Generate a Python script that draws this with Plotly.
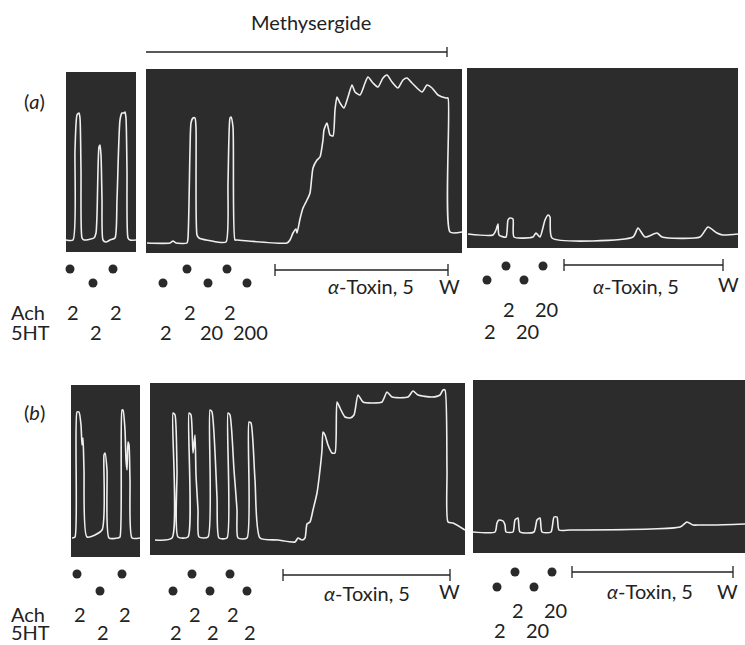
import plotly.graph_objects as go

W, H = 745, 645


def px(x):
    return x / W


def py(y):
    return 1 - y / H


# ---------------- DATA (time in chart units, tension in chart units) ----------------
# Row (a)
a1_t = [0, 7, 9, 11, 13, 14, 15, 16, 18, 28, 30, 31, 33, 34, 35, 36, 37, 40, 44, 49, 51, 54, 56, 58, 59, 60, 61, 62, 64, 70]
a1_v = [12, 12, 102, 137, 139, 134, 82, 14, 12, 14, 19, 37, 105, 107, 97, 52, 12, 10, 12, 14, 52, 132, 139, 139, 140, 134, 82, 14, 12, 12]

a2_t = [1, 24, 27, 30, 41, 42, 44, 45, 47, 49, 50, 51, 53, 71, 80, 82, 84, 85, 87, 89, 91, 141, 144, 147, 150, 151,
        154, 157, 161, 164, 167, 171, 174, 177, 178, 181, 184, 187, 189, 191, 194, 198, 202, 206, 209, 214, 219, 222,
        227, 232, 237, 241, 246, 252, 257, 261, 266, 276, 281, 286, 292, 300, 302, 304, 316]
a2_v = [10, 10, 12, 10, 10, 15, 103, 130, 135, 135, 125, 18, 15, 11, 11, 70, 135, 136, 126, 13, 13, 10, 13, 20, 24, 20,
        34, 45, 53, 60, 85, 93, 96, 113, 123, 130, 118, 117, 143, 156, 150, 145, 156, 168, 161, 158, 170, 176,
        170, 166, 175, 178, 171, 165, 173, 175, 170, 161, 168, 165, 158, 155, 155, 21, 21]

a3_t = [1, 26, 29, 31, 32, 39, 41, 43, 46, 47, 66, 69, 73, 78, 81, 83, 85, 166, 171, 178, 190, 195, 233, 241, 250, 256, 271]
a3_v = [14, 13, 18, 24, 13, 11, 28, 30, 29, 11, 11, 15, 11, 28, 33, 31, 10, 11, 20, 11, 15, 11, 11, 21, 15, 13, 14]

# Row (b)
b1_t = [1, 4, 6, 8, 10, 11, 12, 13, 16, 31, 33, 34, 36, 38, 47, 49, 51, 52, 54, 55, 56, 57, 58, 59, 61, 69]
b1_v = [19, 20, 145, 145, 132, 112, 119, 87, 20, 27, 102, 104, 87, 19, 19, 20, 147, 147, 127, 97, 87, 115, 112, 77, 19, 19]

b2_t = [5, 22, 23, 25, 27, 28, 38, 39, 41, 43, 45, 46, 48, 49, 58, 60, 62, 67, 69, 77, 78, 80, 84, 87, 88, 97, 99,
        101, 105, 110, 128, 145, 148, 152, 155, 157, 160, 163, 167, 170, 172, 173, 175, 178, 182, 185, 187, 190,
        195, 200, 204, 208, 213, 222, 232, 237, 242, 258, 263, 268, 282, 290, 293, 295, 297, 298, 303, 315]
b2_v = [15, 17, 142, 140, 85, 18, 18, 142, 140, 102, 120, 80, 45, 18, 18, 145, 143, 58, 17, 17, 142, 140, 85, 45, 17,
        17, 133, 132, 75, 17, 15, 13, 17, 15, 17, 31, 33, 45, 62, 85, 105, 123, 120, 110, 102, 102, 153, 147,
        138, 137, 140, 160, 153, 152, 153, 163, 158, 158, 164, 160, 158, 160, 165, 165, 85, 33, 32, 25]

b3_t = [0, 22, 24, 26, 30, 32, 33, 40, 42, 45, 47, 61, 64, 67, 69, 78, 81, 84, 86, 97, 207, 214, 220, 227, 240, 272]
b3_v = [21, 21, 30, 33, 32, 28, 21, 21, 33, 35, 21, 21, 33, 35, 21, 21, 36, 36, 23, 23, 26, 31, 28, 28, 28, 29]

# Drug additions: time of addition and dose
a1_ach_t, a1_ach_dose = [4, 47], ["2", "2"]
a1_5ht_t, a1_5ht_dose = [27], ["2"]
a2_ach_t, a2_ach_dose = [41, 81], ["2", "2"]
a2_5ht_t, a2_5ht_dose = [17, 62, 101], ["2", "20", "200"]
a3_ach_t, a3_ach_dose = [39, 76], ["2", "20"]
a3_5ht_t, a3_5ht_dose = [20, 57], ["2", "20"]
b1_ach_t, b1_ach_dose = [6, 51], ["2", "2"]
b1_5ht_t, b1_5ht_dose = [29], ["2"]
b2_ach_t, b2_ach_dose = [42, 80], ["2", "2"]
b2_5ht_t, b2_5ht_dose = [23, 60, 97], ["2", "2", "2"]
b3_ach_t, b3_ach_dose = [42, 79], ["2", "20"]
b3_5ht_t, b3_5ht_dose = [24, 61], ["2", "20"]

# alpha-toxin exposure periods (start, wash) per panel
a2_toxin = [129, 302]
a3_toxin = [97, 256]
b2_toxin = [133, 300]
b3_toxin = [99, 260]
methysergide_a2 = [-6, 301]

# ---------------- LAYOUT (pixel boxes of the recording panels) ----------------
panels = [
    ("a1", 66, 136, 72, 252, a1_t, a1_v, a1_ach_t, a1_ach_dose, a1_5ht_t, a1_5ht_dose, "a"),
    ("a2", 146, 462, 69, 253, a2_t, a2_v, a2_ach_t, a2_ach_dose, a2_5ht_t, a2_5ht_dose, "a"),
    ("a3", 467, 738, 68, 248, a3_t, a3_v, a3_ach_t, a3_ach_dose, a3_5ht_t, a3_5ht_dose, "a3"),
    ("b1", 71, 140, 385, 557, b1_t, b1_v, b1_ach_t, b1_ach_dose, b1_5ht_t, b1_5ht_dose, "b"),
    ("b2", 150, 465, 383, 555, b2_t, b2_v, b2_ach_t, b2_ach_dose, b2_5ht_t, b2_5ht_dose, "b"),
    ("b3", 473, 745, 380, 553, b3_t, b3_v, b3_ach_t, b3_ach_dose, b3_5ht_t, b3_5ht_dose, "b3"),
]
rows = {
    "a": dict(up=269, low=283, ach=312, ht=332),
    "a3": dict(up=266, low=280, ach=309, ht=331),
    "b": dict(up=574, low=591, ach=614, ht=632),
    "b3": dict(up=572, low=587, ach=610, ht=630),
}

FONT = "Lato, 'Open Sans', sans-serif"
TXT = "#222222"
DARK = "#2c2c2c"
FS = 20

fig = go.Figure()
shapes = []
annotations = []
layout = dict(
    width=W, height=H, margin=dict(l=0, r=0, t=0, b=0),
    paper_bgcolor="white", plot_bgcolor="rgba(0,0,0,0)", showlegend=False,
    font=dict(family=FONT, size=FS, color=TXT),
)
layout["yaxis7"] = dict(domain=[0, 1], range=[0, 1], visible=False, fixedrange=True, anchor="x")

for i, (name, L, R, T, B, t, v, ach_t, ach_d, ht_t, ht_d, rk) in enumerate(panels, start=1):
    xa = "x" if i == 1 else f"x{i}"
    ya = "y" if i == 1 else f"y{i}"
    layout["xaxis" if i == 1 else f"xaxis{i}"] = dict(
        domain=[px(L), px(R)], range=[0, R - L], visible=False, fixedrange=True, anchor=ya)
    layout["yaxis" if i == 1 else f"yaxis{i}"] = dict(
        domain=[py(B), py(T)], range=[0, B - T], visible=False, fixedrange=True, anchor=xa)
    shapes.append(dict(type="rect", xref=f"{xa} domain", yref=f"{ya} domain", x0=0, x1=1, y0=0, y1=1,
                       fillcolor=DARK, line=dict(width=0), layer="below"))
    fig.add_trace(go.Scatter(x=t, y=v, xaxis=xa, yaxis=ya, mode="lines",
                             line=dict(color="#efefef", width=1.6, shape="spline", smoothing=0.6),
                             hoverinfo="skip"))
    r = rows[rk]
    # dots: Ach additions upper row, 5HT additions lower row
    fig.add_trace(go.Scatter(x=list(ach_t) + list(ht_t),
                             y=[py(r["up"])] * len(ach_t) + [py(r["low"])] * len(ht_t),
                             xaxis=xa, yaxis="y7", mode="markers",
                             marker=dict(size=9, color="#2a2a2a"), hoverinfo="skip", cliponaxis=False))
    for tt, d in zip(ach_t, ach_d):
        annotations.append(dict(x=tt, y=py(r["ach"]), xref=xa, yref="paper", text=d, showarrow=False,
                                xanchor="center", yanchor="middle", xshift=3, font=dict(size=FS)))
    for tt, d in zip(ht_t, ht_d):
        annotations.append(dict(x=tt, y=py(r["ht"]), xref=xa, yref="paper", text=d, showarrow=False,
                                xanchor="center", yanchor="middle", xshift=3, font=dict(size=FS)))


def bar(xref, start, end, ypix, half=6):
    shapes.append(dict(type="line", xref=xref, yref="paper", x0=start, x1=end, y0=py(ypix), y1=py(ypix),
                       line=dict(color=TXT, width=1.3)))
    for xx in (start, end):
        shapes.append(dict(type="line", xref=xref, yref="paper", x0=xx, x1=xx,
                           y0=py(ypix - half), y1=py(ypix + half), line=dict(color=TXT, width=1.3)))


bar("x2", methysergide_a2[0], methysergide_a2[1], 52, 5)
bar("x2", a2_toxin[0], a2_toxin[1], 270)
bar("x3", a3_toxin[0], a3_toxin[1], 265)
bar("x5", b2_toxin[0], b2_toxin[1], 575)
bar("x6", b3_toxin[0], b3_toxin[1], 572)


def label(x, y, text, size=FS, anchor="center"):
    annotations.append(dict(x=px(x), y=py(y), xref="paper", yref="paper", text=text, showarrow=False,
                            xanchor=anchor, yanchor="middle", font=dict(size=size)))


label(311, 22, "Methysergide", 20)
label(34, 101, "(<i>a</i>)")
label(34, 412, "(<i>b</i>)")
tox = "<i>α</i>-Toxin, 5"
label(371, 286, tox)
label(449, 286, "W")
label(636, 286, tox)
label(728, 284, "W")
label(367, 593, tox)
label(449, 591, "W")
label(650, 591, tox)
label(727, 591, "W")
label(9, 312, "Ach", anchor="left")
label(9, 332, "5HT", anchor="left")
label(9, 614, "Ach", anchor="left")
label(9, 632, "5HT", anchor="left")

layout["shapes"] = shapes
layout["annotations"] = annotations
fig.update_layout(**layout)
fig.write_html("out.html")
